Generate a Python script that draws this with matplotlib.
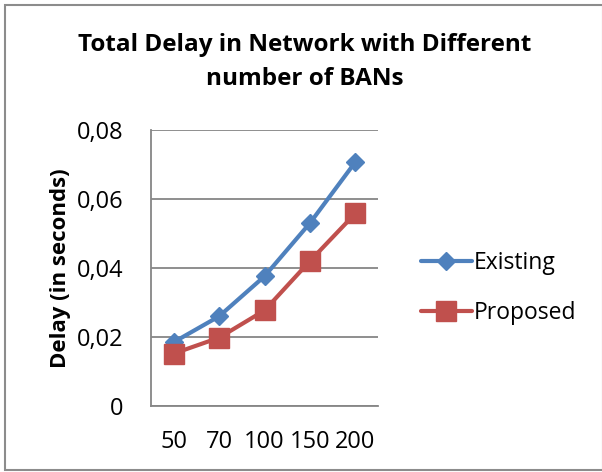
import matplotlib.pyplot as plt
from matplotlib.patches import Rectangle

# data
bans = ['50', '70', '100', '150', '200']
existing = [0.0185, 0.026, 0.0376, 0.053, 0.0707]
proposed = [0.0152, 0.0198, 0.0277, 0.042, 0.0558]
yticks = [0, 0.02, 0.04, 0.06, 0.08]
ylabels = ['0', '0,02', '0,04', '0,06', '0,08']

plt.rcParams['font.family'] = ['Open Sans', 'DejaVu Sans']

W, H = 602, 472
fig = plt.figure(figsize=(W / 100, H / 100), dpi=100)
ax = fig.add_axes([151 / W, 1 - 406 / H, 227 / W, 276 / H])

x = range(len(bans))
ax.plot(x, existing, color='#4F81BD', lw=3, marker='D', ms=9.5,
        label='Existing', solid_capstyle='round', zorder=3)
ax.plot(x, proposed, color='#C0504D', lw=3, marker='s', ms=14,
        label='Proposed', solid_capstyle='round', zorder=3)

ax.set_xlim(-0.5, 4.5)
ax.set_ylim(0, 0.08)
ax.set_xticks(list(x))
ax.set_xticklabels(bans)
ax.set_yticks(yticks)
ax.set_yticklabels(ylabels)
ax.tick_params(axis='both', length=0, labelsize=17)
ax.tick_params(axis='y', pad=20)
ax.tick_params(axis='x', pad=17)
ax.grid(axis='y', color='#868686', lw=1.3)
ax.set_axisbelow(True)
for s in ['top', 'right']:
    ax.spines[s].set_visible(False)
for s in ['left', 'bottom']:
    ax.spines[s].set_color('#868686')
    ax.spines[s].set_linewidth(1.3)

ax.set_ylabel('Delay (in seconds)', fontsize=16, fontweight='bold', labelpad=4)
fig.text(305 / W, 1 - 62 / H, 'Total Delay in Network with Different\nnumber of BANs',
         ha='center', va='center', fontsize=17.5, fontweight='bold', linespacing=1.55)

fig.legend(loc='center left', bbox_to_anchor=(412 / W, 1 - 288 / H), frameon=False,
           fontsize=16.5, handlelength=2.2, handletextpad=0.1, labelspacing=1.12,
           borderaxespad=0)

fig.patches.append(Rectangle((5 / W, 2 / H), (W - 4) / W, 1 - 7 / H,
                             transform=fig.transFigure, fill=False,
                             edgecolor='#8c8c8c', lw=1.5))

fig.savefig('out.png', dpi=100)
